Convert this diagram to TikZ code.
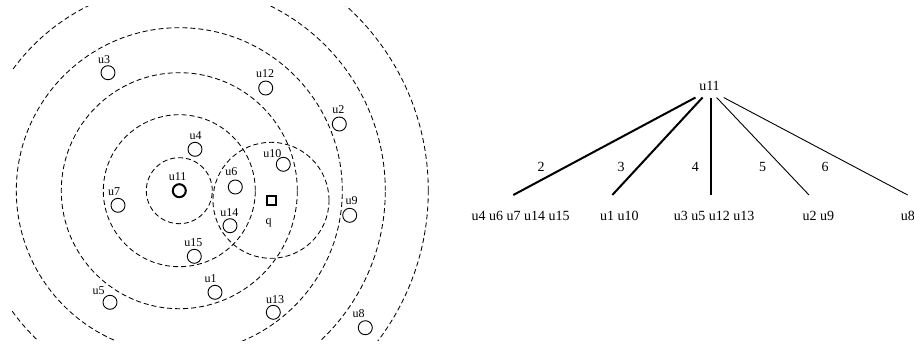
\documentclass[tikz,border=0pt]{standalone}
\usepackage{fontspec}
\setmainfont{Liberation Serif}
\begin{document}
\begin{tikzpicture}[x=1pt,y=-1pt,
  ring/.style={dash pattern=on 5pt off 3pt, line width=0.85pt},
  usr/.style={circle,draw,minimum size=14pt,inner sep=0pt,line width=0.9pt},
  ulbl/.style={font=\fontsize{12}{12}\selectfont, inner sep=0pt},
  tlbl/.style={font=\fontsize{14}{14}\selectfont, inner sep=0pt},
  thickedge/.style={line width=2pt},
  thinedge/.style={line width=0.9pt}]
\clip (0,0) rectangle (914,346);
\fill[white] (0,0) rectangle (914,346);
% rings
\coordinate (c) at (179.3,190.7);
\coordinate (qc) at (271,200.3);
\begin{scope}
\clip (12,6) rectangle (460,340);
\foreach \r in {33,76,118,163,206,249} \draw[ring] (c) circle[radius=\r pt];
\draw[ring] (qc) circle[radius=58pt];
\end{scope}
% users
\node[usr] (u3) at (108,72.7) {};
\node[usr] (u12) at (265.7,88) {};
\node[usr] (u2) at (339.3,124) {};
\node[usr] (u4) at (195,149.3) {};
\node[usr] (u10) at (283.3,164.3) {};
\node[usr,line width=2pt,minimum size=13pt] (u11) at (c) {};
\node[usr] (u6) at (235.3,187) {};
\node[draw,line width=2pt,minimum size=9pt,inner sep=0pt] (q) at (qc) {};
\node[usr] (u7) at (118,205.3) {};
\node[usr] (u9) at (349.7,215.3) {};
\node[usr] (u14) at (230,225.7) {};
\node[usr] (u15) at (194.3,256.3) {};
\node[usr] (u1) at (215,292.3) {};
\node[usr] (u5) at (110,302.3) {};
\node[usr] (u13) at (273.3,312.3) {};
\node[usr] (u8) at (365.3,327.7) {};
% user labels
\node[ulbl] (l3) at (104,60) {u3};
\node[ulbl] (l12) at (265,74) {u12};
\node[ulbl] (l2) at (338.3,110) {u2};
\node[ulbl] (l4) at (195.7,136) {u4};
\node[ulbl] (l10) at (272.3,153.3) {u10};
\node[ulbl] (l11) at (177.7,176.7) {u11};
\node[ulbl] (l6) at (231.3,171.7) {u6};
\node[ulbl] (lq) at (268.7,223.3) {q};
\node[ulbl] (l7) at (114,192) {u7};
\node[ulbl] (l9) at (351.7,200.7) {u9};
\node[ulbl] (l14) at (229.3,212.3) {u14};
\node[ulbl] (l15) at (193.3,242.3) {u15};
\node[ulbl] (l1) at (210.7,278.3) {u1};
\node[ulbl] (l5) at (98.7,291) {u5};
\node[ulbl] (l13) at (275,299.3) {u13};
\node[ulbl] (l8) at (358.7,314) {u8};
% tree
\node[tlbl,text height=8.05pt,text depth=6.55pt,minimum width=28pt] (root) at (709.5,90) {u11};
\coordinate (e2) at (513.3,195);
\coordinate (e3) at (612.3,195);
\coordinate (e4) at (710.7,195);
\coordinate (e5) at (809,195);
\coordinate (e6) at (907.7,195);
\draw[thickedge] (root) -- (e2);
\draw[thickedge] (root) -- (e3);
\draw[thickedge] (root.south -| e4) -- (e4);
\draw[thinedge] (root) -- (e5);
\draw[thinedge] (root) -- (e6);
\node[tlbl] (n2) at (541,167.3) {2};
\node[tlbl] (n3) at (621,167.3) {3};
\node[tlbl] (n4) at (695.3,167.3) {4};
\node[tlbl] (n5) at (762.7,167.3) {5};
\node[tlbl] (n6) at (825,167.3) {6};
\node[tlbl] (t2) at (520.7,215.7) {u4 u6 u7 u14 u15};
\node[tlbl] (t3) at (619.3,215.7) {u1 u10};
\node[tlbl] (t4) at (714,215.7) {u3 u5 u12 u13};
\node[tlbl] (t5) at (818.3,215.7) {u2 u9};
\node[tlbl,anchor=west] (t6) at (900.7,215.7) {u8};
\end{tikzpicture}
\end{document}
